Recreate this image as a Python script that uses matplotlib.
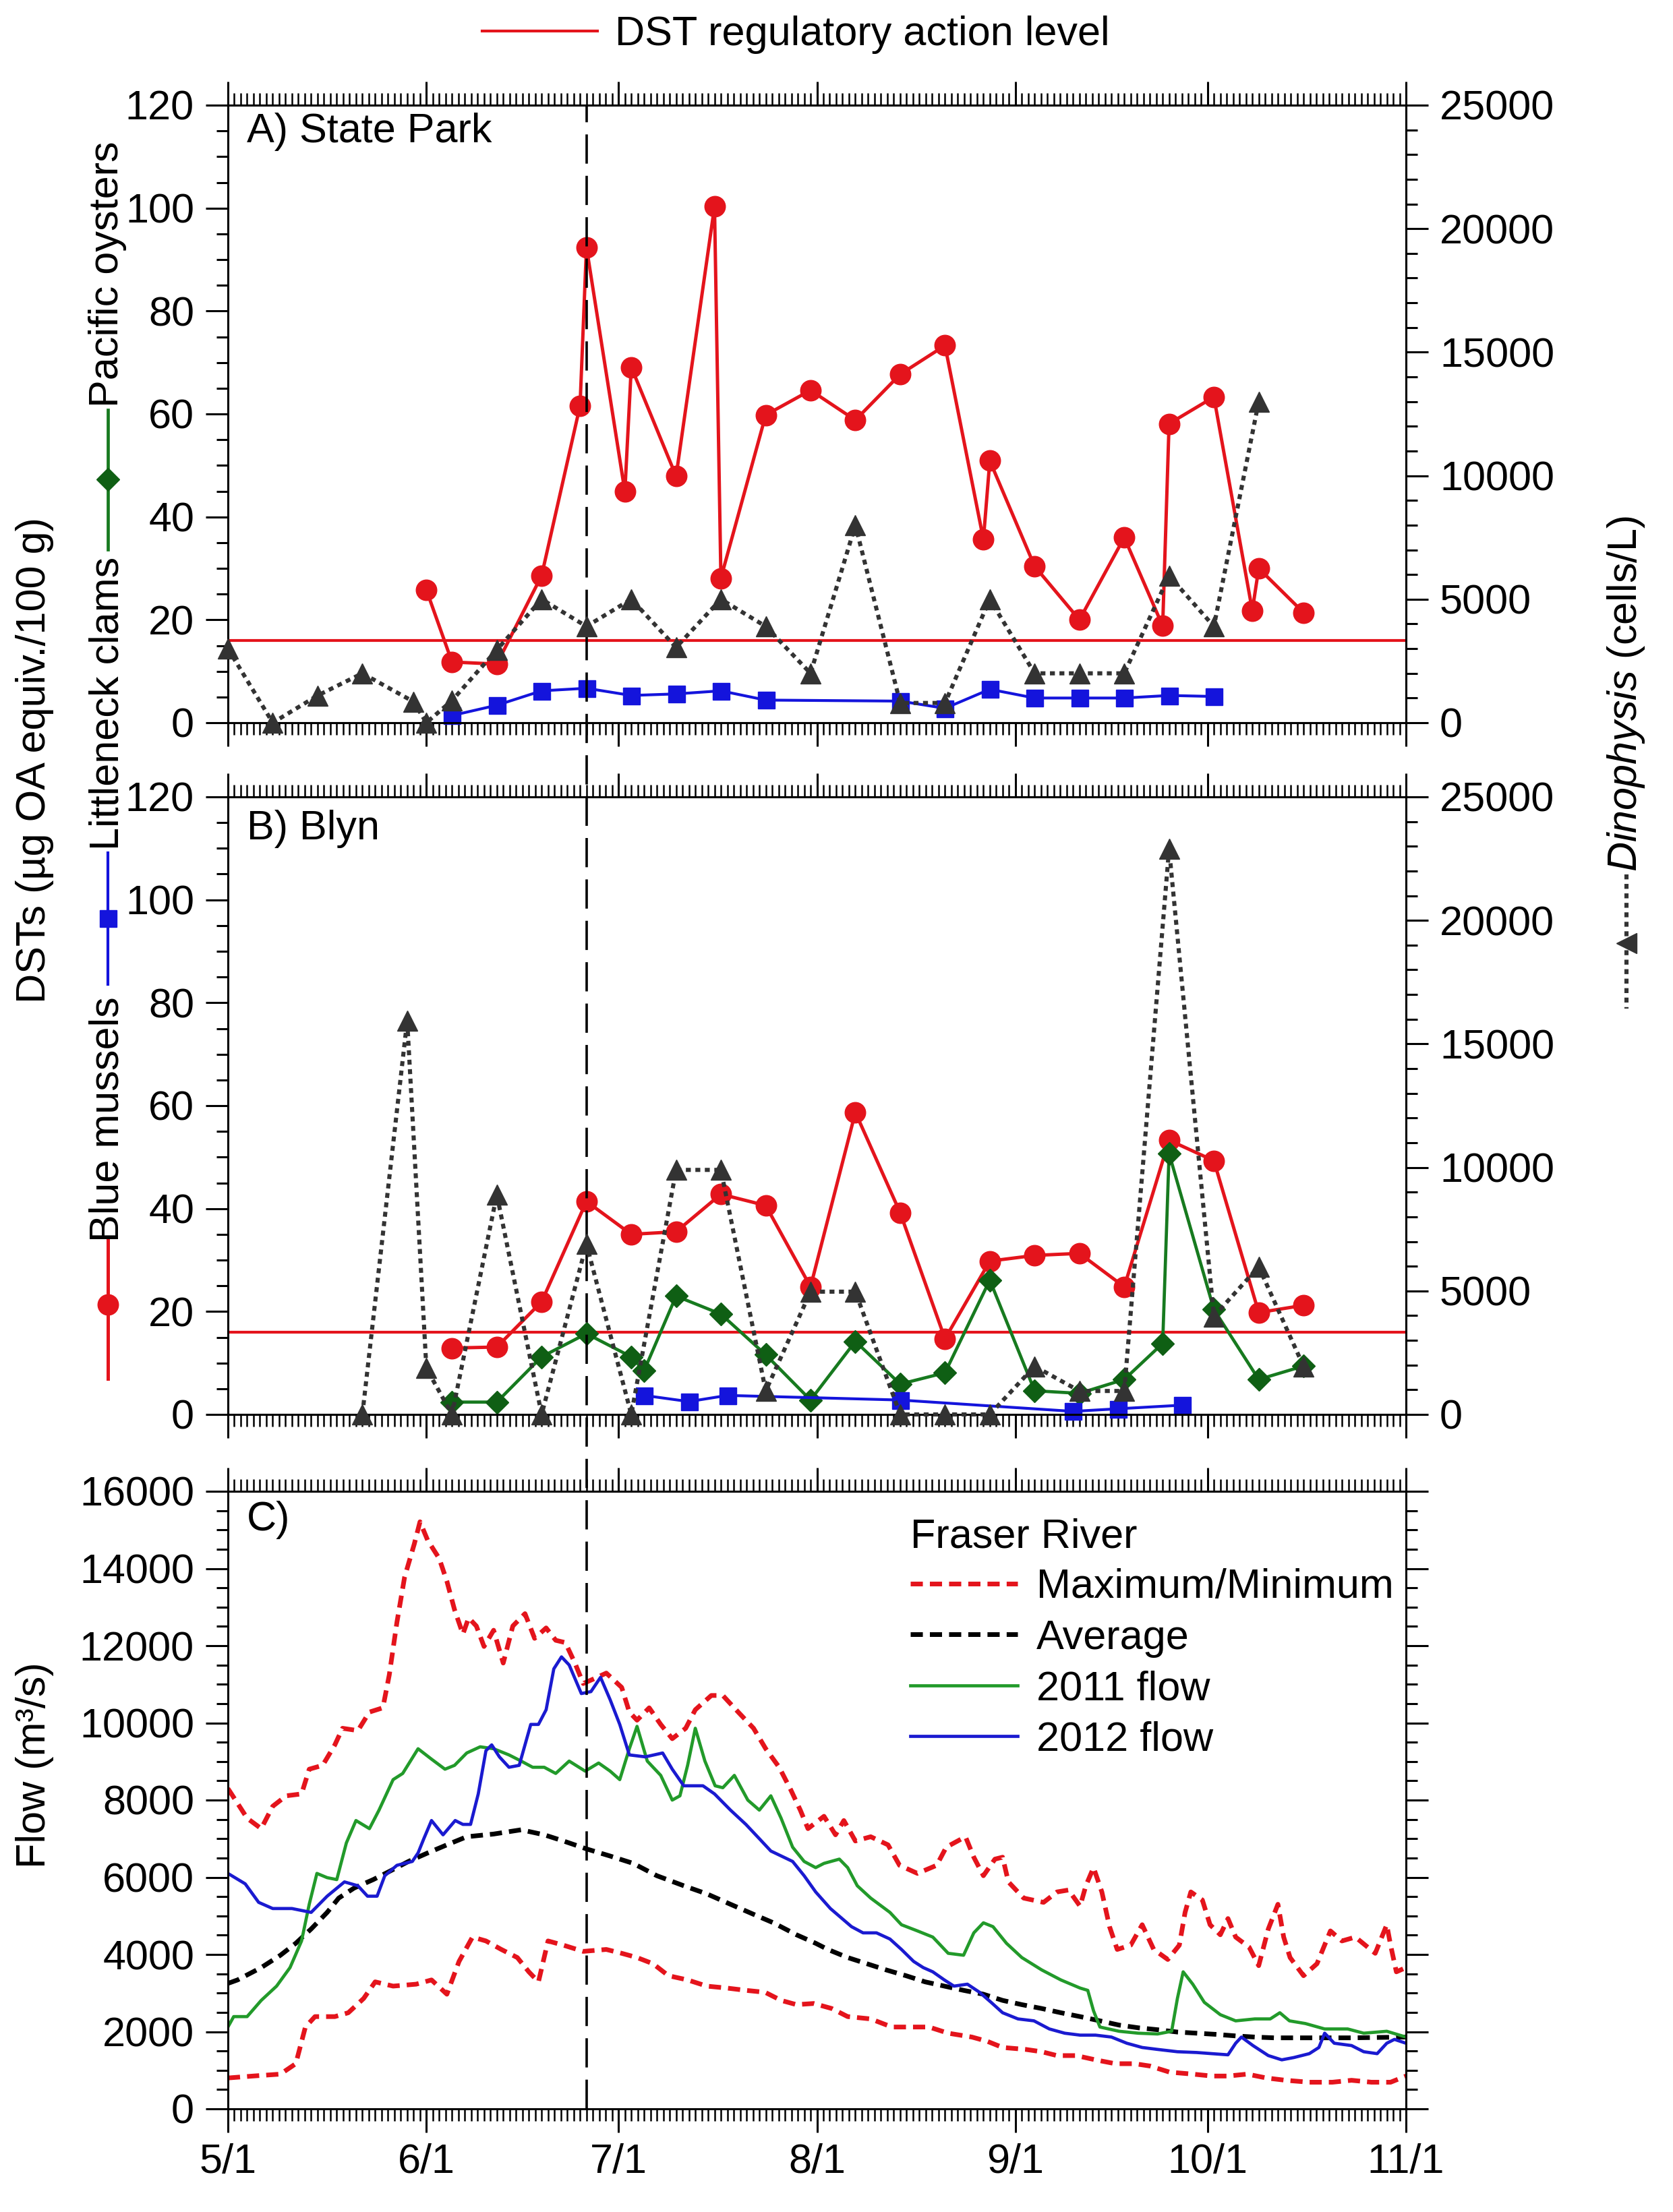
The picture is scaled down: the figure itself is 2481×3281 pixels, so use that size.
import pandas as pd
import matplotlib
matplotlib.use('Agg')
import matplotlib.pyplot as plt
import matplotlib.transforms as mtransforms
from matplotlib.lines import Line2D
from matplotlib.ticker import FixedLocator, MultipleLocator

plt.rcParams['font.family'] = ['Liberation Sans', 'DejaVu Sans']
plt.rcParams['mathtext.fontset'] = 'custom'
plt.rcParams['mathtext.rm'] = 'Liberation Sans'
plt.rcParams['mathtext.it'] = 'Liberation Sans:italic'
plt.rcParams['font.size'] = 44

# x axis runs 5/1 .. 11/1, counted in days from 5/1
month_labels = ['5/1', '6/1', '7/1', '8/1', '9/1', '10/1', '11/1']
dst_action_level = 16
event_date = '6/26'

# A) State Park
a_oyster_dates = ['6/1', '6/5', '6/12', '6/19', '6/25', '6/26', '7/2', '7/3', '7/10', '7/16', '7/17',
                  '7/24', '7/31', '8/7', '8/14', '8/21', '8/27', '8/28', '9/4', '9/11', '9/18',
                  '9/24', '9/25', '10/2', '10/8', '10/9', '10/16']
a_oyster_dst = [25.8, 11.8, 11.4, 28.6, 61.6, 92.4, 44.9, 69.1, 47.9, 100.3, 28.1,
                59.8, 64.6, 58.8, 67.7, 73.3, 35.6, 50.9, 30.4, 20.0, 36.0,
                18.8, 58.1, 63.3, 21.8, 30.0, 21.4]
a_clam_dates = ['6/5', '6/12', '6/19', '6/26', '7/3', '7/10', '7/17', '7/24', '8/14', '8/21',
                '8/28', '9/4', '9/11', '9/18', '9/25', '10/2']
a_clam_dst = [1.4, 3.4, 6.2, 6.7, 5.3, 5.6, 6.2, 4.4, 4.2, 2.8, 6.5, 4.8, 4.8, 4.8, 5.3, 5.1]
a_dino_dates = ['5/1', '5/8', '5/15', '5/22', '5/30', '6/1', '6/5', '6/12', '6/19', '6/26', '7/3',
                '7/10', '7/17', '7/24', '7/31', '8/7', '8/14', '8/21', '8/28', '9/4', '9/11',
                '9/18', '9/25', '10/2', '10/9']
a_dino_cells = [3000, 0, 1100, 2000, 850, 0, 900, 2950, 5000, 3900, 5000,
                3050, 5000, 3900, 2000, 8000, 800, 800, 5000, 2000, 2000,
                2000, 5950, 3900, 13000]

# B) Blyn
b_mussel_dates = ['6/5', '6/12', '6/19', '6/26', '7/3', '7/10', '7/17', '7/24', '7/31', '8/7',
                  '8/14', '8/21', '8/28', '9/4', '9/11', '9/18', '9/25', '10/2', '10/9', '10/16']
b_mussel_dst = [12.9, 13.1, 21.9, 41.4, 35.0, 35.5, 42.8, 40.6, 24.8, 58.7,
                39.2, 14.7, 29.8, 30.9, 31.3, 24.8, 53.3, 49.3, 19.8, 21.2]
b_oyster_dates = ['6/5', '6/12', '6/19', '6/26', '7/3', '7/5', '7/10', '7/17', '7/24', '7/31',
                  '8/7', '8/14', '8/21', '8/28', '9/4', '9/11', '9/18', '9/24', '9/25', '10/2',
                  '10/9', '10/16']
b_oyster_dst = [2.4, 2.4, 11.2, 15.7, 11.2, 8.5, 23.0, 19.5, 11.6, 2.8,
                14.2, 5.9, 8.1, 26.1, 4.6, 4.1, 6.8, 13.8, 50.7, 20.4,
                6.8, 9.4]
b_clam_dates = ['7/5', '7/12', '7/18', '8/14', '9/10', '9/17', '9/27']
b_clam_dst = [3.7, 2.5, 3.7, 2.8, 0.6, 1.1, 1.8]
b_dino_dates = ['5/22', '5/29', '6/1', '6/5', '6/12', '6/19', '6/26', '7/3', '7/10', '7/17',
                '7/24', '7/31', '8/7', '8/14', '8/21', '8/28', '9/4', '9/11', '9/18', '9/25',
                '10/2', '10/9', '10/16']
b_dino_cells = [0, 15950, 1870, 0, 8900, 0, 6900, 0, 9900, 9900,
                950, 4970, 4970, 0, 0, 0, 1950, 950, 950, 22900,
                3970, 5980, 1950]

# C) Fraser River flow (m3/s), day = days after 5/1
flow_max_day = [0, 1.8, 3, 5.2, 7, 9.1, 11.5, 12.7, 14.8, 16.7, 17.9, 20.3, 22.1, 24.2, 25.2, 26.4,
                27.6, 29.1, 30, 31.2, 33, 34.2, 35.4, 36.7, 37.6, 38.8, 40, 41.5, 43, 44.5, 46.4,
                47.9, 49.7, 51.2, 52.7, 54.2, 55.5, 57, 59.1, 61.5, 62.7, 63.9, 65.8, 67.6, 69.4,
                71.5, 73, 75.5, 77.3, 79.7, 82.1, 84, 86.1, 87.9, 89.4, 90.6, 93.1, 94.9, 96.2,
                98, 100.4, 103.1, 104.9, 107.7, 110.7, 112.2, 115.2, 116.5, 118, 119.8, 121,
                121.9, 124.3, 127.4, 129.5, 131.3, 133.1, 134, 135.2, 136.5, 137.7, 138.9, 141,
                142.8, 144.6, 146.8, 148.6, 149.5, 150.4, 152.2, 153.4, 155, 156.2, 157.4, 159.5,
                161, 162.5, 164, 164.9, 165.9, 168, 170.1, 172.2, 174, 176.1, 179.2, 181, 181.6,
                182.5, 184]
flow_max = [8300, 7840, 7530, 7260, 7840, 8110, 8160, 8800, 8900, 9430, 9860, 9800, 10280, 10390,
            11240, 12610, 13780, 14630, 15210, 14730, 14260, 13670, 12930, 12300, 12720, 12510,
            11980, 12400, 11550, 12510, 12830, 12190, 12460, 12140, 12080, 11550, 11020, 11130,
            11290, 10920, 10280, 10070, 10390, 9960, 9590, 9860, 10340, 10710, 10710, 10280,
            9860, 9330, 8850, 8270, 7740, 7260, 7580, 7100, 7470, 6940, 7050, 6840, 6310, 6100,
            6310, 6780, 7050, 6520, 6040, 6470, 6520, 5880, 5460, 5350, 5620, 5670, 5250, 5780,
            6250, 5620, 4720, 4130, 4240, 4770, 4130, 3870, 4240, 5090, 5620, 5410, 4770, 4510,
            4930, 4450, 4190, 3710, 4660, 5300, 4450, 3920, 3450, 3760, 4610, 4350, 4450, 4030,
            4770, 4240, 3550, 3660]
flow_min_day = [0, 3.9, 8.2, 10.6, 12.1, 13.6, 16.7, 18.8, 21.2, 23, 25.8, 29.4, 31.8, 34.2, 36.1,
                38.2, 40.3, 42.7, 45.2, 47, 48.5, 50, 52.4, 55.5, 59.1, 61.5, 63.9, 66.4, 68.8,
                71.8, 74.8, 77.9, 80.9, 83.9, 86.4, 88.8, 91.5, 94.3, 96.8, 100.4, 103.7, 106.5,
                109.5, 112.5, 116.2, 118.6, 121, 124.6, 127.1, 129.5, 132.5, 135.5, 138.6, 141.6,
                144, 147.1, 150.7, 153.7, 156.2, 159.2, 162.2, 165.2, 168.9, 172.5, 175.5, 178.6,
                181.6, 184]
flow_min = [800, 850, 900, 1170, 2120, 2390, 2390, 2490, 2860, 3290, 3180, 3230, 3340, 2970, 3820,
            4450, 4350, 4130, 3920, 3550, 3290, 4350, 4240, 4080, 4130, 4030, 3920, 3760, 3450,
            3340, 3180, 3130, 3070, 3020, 2810, 2700, 2730, 2600, 2390, 2330, 2120, 2120, 2120,
            1960, 1860, 1750, 1590, 1540, 1480, 1380, 1380, 1270, 1170, 1170, 1110, 950, 900,
            850, 850, 900, 800, 740, 690, 690, 740, 690, 690, 850]
flow_avg_day = [0, 1.5, 5.2, 8.2, 10.6, 13, 15.5, 17.3, 19.7, 22.7, 25.2, 28.2, 31.2, 34.2, 37.3,
                41.5, 45.8, 49.4, 52.4, 56.1, 59.7, 63.3, 67, 71.2, 74.8, 78.5, 82.1, 85.2, 88.8,
                91.8, 93.7, 96.8, 99.8, 102.8, 105.9, 108.9, 111.9, 114.9, 118, 121, 124, 127.1,
                130.1, 133.1, 136.2, 139.2, 142.2, 145.2, 148.3, 151.3, 154.3, 157.4, 160.4,
                163.4, 169.5, 175.5, 184]
flow_avg = [3250, 3340, 3660, 3980, 4290, 4660, 5090, 5460, 5720, 5940, 6150, 6410, 6630, 6840,
            7050, 7120, 7230, 7100, 6940, 6730, 6550, 6360, 6040, 5780, 5570, 5300, 5040, 4820,
            4510, 4290, 4130, 3920, 3760, 3600, 3450, 3290, 3180, 3070, 2970, 2810, 2700, 2600,
            2490, 2390, 2280, 2170, 2100, 2050, 1990, 1960, 1930, 1890, 1860, 1840, 1840, 1840,
            1860]
flow_2011_day = [0, 0.9, 3, 5.2, 7.6, 9.7, 11.5, 12.7, 13.9, 15.5, 17, 18.5, 20, 22.1, 23.6, 25.8,
                 27.3, 29.7, 31.8, 33.9, 35.4, 37.3, 39.4, 41.5, 43.9, 45.8, 47.6, 49.4, 51.2, 53.3,
                 55.8, 57.9, 59.7, 61.2, 62.7, 63.9, 65.5, 67.6, 69.4, 70.6, 71.8, 73, 74.5, 76.1,
                 77.3, 79.1, 81.2, 83, 84.8, 86.4, 88.2, 90, 91.8, 93.1, 95.5, 96.8, 98.3, 100.4,
                 103.4, 105.2, 107.7, 110.1, 112.5, 114.9, 116.5, 118, 119.5, 121.6, 124, 127.1,
                 130.1, 133.1, 134.3, 135.2, 136.2, 139.2, 142.2, 145.2, 147.4, 148.3, 149.2, 150.7,
                 152.5, 155, 157.4, 160.4, 162.8, 164.3, 165.8, 168.3, 171.3, 174.9, 177.4, 181, 184]
flow_2011 = [2120, 2390, 2390, 2810, 3180, 3660, 4350, 5300, 6100, 5990, 5940, 6890, 7470, 7260,
             7740, 8530, 8690, 9330, 9060, 8800, 8900, 9220, 9380, 9330, 9170, 9010, 8850, 8850,
             8690, 9010, 8750, 8960, 8750, 8530, 9330, 9910, 9010, 8640, 8000, 8110, 8900, 9860,
             9010, 8370, 8320, 8640, 8000, 7740, 8110, 7530, 6780, 6410, 6250, 6360, 6470, 6250,
             5780, 5460, 5090, 4770, 4610, 4450, 4030, 3980, 4560, 4820, 4720, 4290, 3920, 3600,
             3340, 3130, 3070, 2540, 2120, 2010, 1960, 1940, 2010, 2860, 3550, 3230, 2760, 2440,
             2280, 2330, 2330, 2490, 2280, 2210, 2070, 2070, 1960, 2010, 1860]
flow_2012_day = [0, 2.7, 4.8, 7, 10, 13, 15.5, 18.2, 20.3, 21.8, 23.3, 24.5, 26.4, 28.8, 29.7, 30.6,
                 31.8, 33.6, 35.5, 36.7, 37.9, 39.1, 40.3, 41.2, 42.4, 43.9, 45.5, 46.4, 47.3, 48.5,
                 49.7, 50.9, 52.1, 53.3, 55.2, 56.7, 58.2, 59.7, 61.2, 62.7, 65.2, 67.9, 69.4, 71.2,
                 74.2, 76, 78.5, 80.9, 83, 84.8, 88.2, 90, 91.8, 94.1, 97.4, 99.2, 101.3, 103.4,
                 105.2, 107.1, 108.6, 110.1, 111.9, 113.4, 115.5, 117.4, 119.2, 121, 123.4, 125.9,
                 128.3, 130.7, 133.1, 135.5, 138, 140.4, 142.8, 145.2, 148.3, 151.3, 153.7, 156.2,
                 157.4, 158.3, 160.1, 162.5, 164.6, 166.5, 168.9, 170.4, 171.3, 172.8, 175.5, 177.4,
                 179.5, 181, 182.2, 184]
flow_2012 = [6100, 5830, 5350, 5190, 5190, 5090, 5510, 5880, 5780, 5510, 5510, 6040, 6310, 6410,
             6630, 7000, 7470, 7100, 7470, 7370, 7370, 8160, 9280, 9430, 9120, 8850, 8900, 9430,
             9960, 9960, 10340, 11400, 11710, 11500, 10760, 10810, 11180, 10600, 9960, 9170, 9120,
             9220, 8800, 8370, 8370, 8160, 7740, 7370, 7000, 6680, 6410, 6040, 5620, 5190, 4720,
             4560, 4560, 4400, 4130, 3820, 3660, 3550, 3340, 3180, 3230, 3020, 2760, 2490, 2330,
             2280, 2070, 1960, 1910, 1910, 1860, 1700, 1590, 1540, 1480, 1460, 1430, 1400, 1700,
             1860, 1640, 1380, 1270, 1330, 1430, 1590, 1960, 1700, 1640, 1480, 1430, 1700, 1800,
             1700]


def day_of(dates):
    start = pd.Timestamp(2012, 5, 1)
    return [(pd.Timestamp(2012, int(s.split('/')[0]), int(s.split('/')[1])) - start).days
            for s in dates]


month_days = day_of(['5/1', '6/1', '7/1', '8/1', '9/1', '10/1']) + [184]

RED = '#e4141c'
BLUE = '#1414dc'
GREEN = '#177a1f'
DGREEN = '#0f5f14'
GRAY = '#333333'
W, H = 2481, 3281

fig = plt.figure(figsize=(W / 100, H / 100), dpi=100)
left, width, height = 338 / W, (2085 - 338) / W, 916 / H
axA = fig.add_axes([left, 1 - 1072 / H, width, height])
axB = fig.add_axes([left, 1 - 2098 / H, width, height])
axC = fig.add_axes([left, 1 - 3128 / H, width, height])


def style_x(ax, labels=False):
    ax.set_xlim(0, 184)
    ax.xaxis.set_major_locator(FixedLocator(month_days))
    ax.xaxis.set_minor_locator(MultipleLocator(1))
    ax.tick_params(axis='x', which='both', direction='out', top=True, bottom=True, width=2.2)
    ax.tick_params(axis='x', which='major', length=25, pad=12)
    ax.tick_params(axis='x', which='minor', length=13, width=1.8)
    if labels:
        ax.set_xticklabels(month_labels)
    else:
        ax.tick_params(axis='x', labelbottom=False)
    for sp in ax.spines.values():
        sp.set_linewidth(2.2)


def style_y(ax, lo, hi, major, minor):
    ax.set_ylim(lo, hi)
    ax.yaxis.set_major_locator(MultipleLocator(major))
    ax.yaxis.set_minor_locator(MultipleLocator(minor))
    ax.tick_params(axis='y', which='both', direction='out', width=2.2)
    ax.tick_params(axis='y', which='major', length=24, pad=12)
    ax.tick_params(axis='y', which='minor', length=12)
    for sp in ax.spines.values():
        sp.set_linewidth(2.2)


DINO_DASH = (1.2, 1.1)


def dino(ax, dates, cells):
    ax.plot(day_of(dates), cells, color=GRAY, lw=4.4, dashes=DINO_DASH, marker='^', ms=21,
            mec=GRAY, mfc=GRAY, clip_on=False, zorder=3)


def species(ax, dates, vals, color, marker, ms, lw, mcolor=None):
    mcolor = mcolor or color
    ax.plot(day_of(dates), vals, color=color, lw=lw, marker=marker, ms=ms,
            mfc=mcolor, mec=mcolor, clip_on=False, zorder=4)


# panel A
species(axA, a_oyster_dates, a_oyster_dst, RED, 'o', 22, 3.6)
species(axA, a_clam_dates, a_clam_dst, BLUE, 's', 18, 3.0)
reg_line = axA.axhline(dst_action_level, color=RED, lw=3.0, zorder=2)
axA2 = axA.twinx()
dino(axA2, a_dino_dates, a_dino_cells)
axA.text(0.016, 0.957, 'A) State Park', transform=axA.transAxes, ha='left', va='center')

# panel B
species(axB, b_mussel_dates, b_mussel_dst, RED, 'o', 22, 3.6)
species(axB, b_oyster_dates, b_oyster_dst, GREEN, 'D', 17, 3.4, DGREEN)
species(axB, b_clam_dates, b_clam_dst, BLUE, 's', 18, 3.0)
axB.axhline(dst_action_level, color=RED, lw=3.0, zorder=2)
axB2 = axB.twinx()
dino(axB2, b_dino_dates, b_dino_cells)
axB.text(0.016, 0.948, 'B) Blyn', transform=axB.transAxes, ha='left', va='center')

for ax, ax2 in [(axA, axA2), (axB, axB2)]:
    style_x(ax)
    style_y(ax, 0, 120, 20, 5)
    style_y(ax2, 0, 25000, 5000, 1000)
    ax2.set_zorder(ax.get_zorder() + 1)

# panel C
dash = (2.6, 1.5)
axC.plot(flow_max_day, flow_max, color=RED, lw=5.0, dashes=dash, label='Maximum/Minimum')
axC.plot(flow_min_day, flow_min, color=RED, lw=5.0, dashes=dash)
axC.plot(flow_avg_day, flow_avg, color='black', lw=5.0, dashes=dash, label='Average')
axC.plot(flow_2011_day, flow_2011, color='#229a2a', lw=3.4, label='2011 flow')
axC.plot(flow_2012_day, flow_2012, color='#1a1ad0', lw=3.4, label='2012 flow')
style_x(axC, labels=True)
style_y(axC, 0, 16000, 2000, 500)
axC.tick_params(axis='y', which='both', right=True, labelright=False)
axC.text(0.016, 0.954, 'C)', transform=axC.transAxes, ha='left', va='center')
axC.legend(title='Fraser River', alignment='left', frameon=False, loc='upper left',
           bbox_to_anchor=(0.555, 1.004), handlelength=2.6, handletextpad=0.45,
           labelspacing=0.3, borderaxespad=0.3, title_fontsize=44)

# event line through all three panels
ev = day_of([event_date])[0]
trans = mtransforms.blended_transform_factory(axC.transData, fig.transFigure)
fig.add_artist(Line2D([ev, ev], [1 - 3128 / H, 1 - 156 / H], transform=trans, color='black',
                      lw=2.6, dashes=(12, 5), zorder=1))

# top legend for the regulatory level
fig.legend([reg_line], ['DST regulatory action level'], loc='center', frameon=False,
           bbox_to_anchor=(1180 / W, 1 - 52 / H), handlelength=2.8, handletextpad=0.42)


def fx(px):
    return px / W


def fy(px):
    return 1 - px / H


def vkey(x, y0, y1, ym, color, marker, ms, mcolor=None, **kw):
    fig.add_artist(Line2D([fx(x), fx(x)], [fy(y0), fy(y1)], transform=fig.transFigure,
                          color=color, **kw))
    mcolor = mcolor or color
    fig.add_artist(Line2D([fx(x)], [fy(ym)], transform=fig.transFigure, marker=marker,
                          ms=ms, mfc=mcolor, mec=mcolor, ls='none'))


# left axis titles with series keys
fig.text(fx(52), fy(1128), 'DSTs (µg OA equiv./100 g)', rotation=90, ha='center', va='center')
fig.text(fx(160), fy(407), 'Pacific oysters', rotation=90, ha='center', va='center')
vkey(160, 608, 815, 711, GREEN, 'D', 17, DGREEN, lw=3.4)
fig.text(fx(160), fy(1043), 'Littleneck clams', rotation=90, ha='center', va='center')
vkey(160, 1265, 1460, 1362, BLUE, 's', 18, lw=3.0)
fig.text(fx(160), fy(1660), 'Blue mussels', rotation=90, ha='center', va='center')
vkey(160, 1840, 2045, 1935, RED, 'o', 22, lw=3.6)
fig.text(fx(52), fy(2618), 'Flow (m³/s)', rotation=90, ha='center', va='center')

# right axis title with key
fig.text(fx(2412), fy(1029), '$\\it{Dinophysis}$ (cells/L)', rotation=90, ha='center',
         va='center')
vkey(2412, 1297, 1496, 1399, GRAY, '<', 21, lw=4.4, dashes=DINO_DASH)

fig.savefig('out.png', dpi=100)
